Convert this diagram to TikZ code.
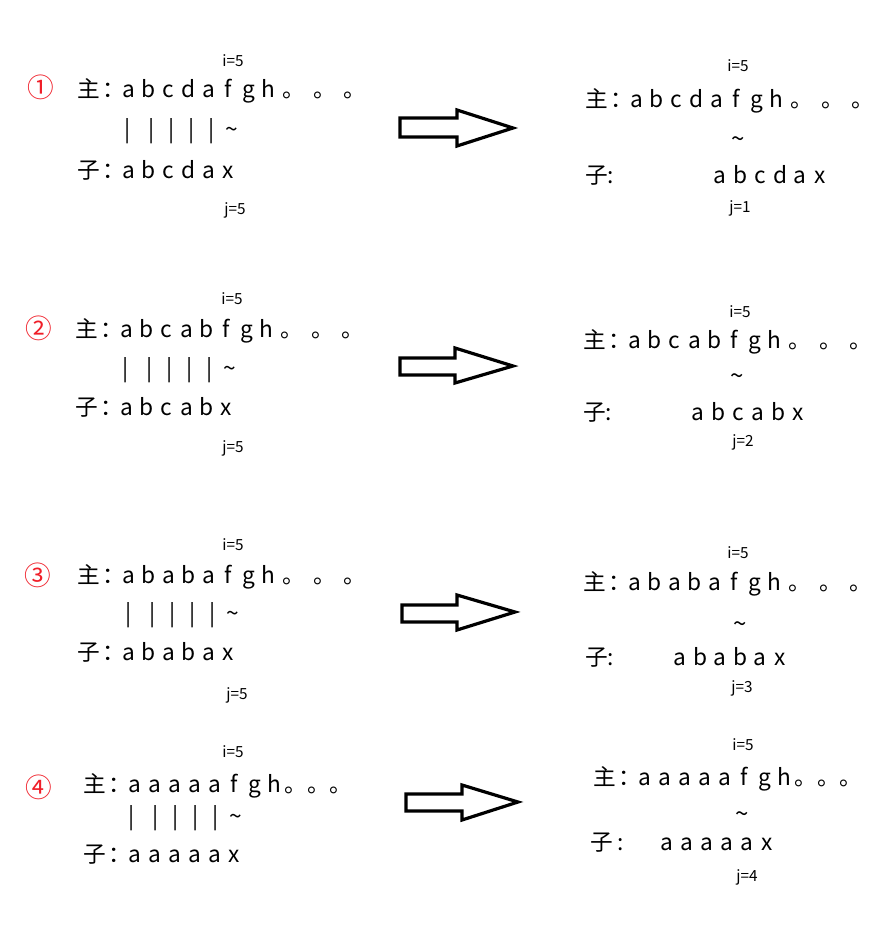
\documentclass[tikz,border=0pt]{standalone}
\usepackage{fontspec}
\setmainfont{Noto Sans CJK SC}
\definecolor{numred}{RGB}{240,30,40}
\makeatletter
\newcommand\spreadchars[1]{\@tfor\sc@c:=#1\do{\makebox[15pt][c]{\sc@c}}}
\makeatother
\newcommand\dotsA{\hspace{3pt}。\hspace{6pt}。\hspace{6pt}。}
\newcommand\dotsB{。。。}
\newcommand\zhu{\makebox[31pt][l]{主\hspace{2pt}：}}
\newcommand\ziL{\makebox[31pt][l]{子\hspace{2pt}：}}
\newcommand\bars{\makebox[21.5pt][c]{|}\spreadchars{||||}\makebox[15pt][c]{\textasciitilde}}
\tikzset{
  mainrow/.style={font=\fontsize{17}{20}\selectfont, inner sep=0pt, anchor=base west},
  barrow/.style={font=\fontsize{17}{20}\selectfont, inner sep=0pt, anchor=west},
  small/.style={font=\fontsize{11.5}{13}\selectfont, inner sep=0pt},
  tilde/.style={font=\fontsize{18}{20}\selectfont, inner sep=0pt},
  num/.style={text=numred, font=\fontsize{20}{22}\selectfont, inner sep=0pt},
  blockarrow/.style={draw=black, line width=2.4pt, fill=white, line join=miter}
}
\begin{document}
\begin{tikzpicture}[x=0.75pt,y=-0.75pt]
\fill[white] (0,0) rectangle (889,938);
\useasboundingbox (0,0) rectangle (889,938);

% ---------- Panel 1 ----------
\node[num] (n1) at (41,87) {①};
\node[small] (i1) at (233,61) {i=5};
\node[mainrow] (m1) at (77,98) {\zhu\spreadchars{abcdafgh}\dotsA};
\node[barrow] (b1) at (112.7,131) {\bars};
\node[mainrow] (s1) at (77,178) {\ziL\spreadchars{abcdax}};
\node[small] (j1) at (235,210) {j=5};
\draw[blockarrow] (400,118) -- (457,118) -- (457,110) -- (513,128) -- (457,146) -- (457,137) -- (400,137) -- cycle;
\node[small] (ri1) at (738,66) {i=5};
\node[mainrow] (rm1) at (585,108) {\zhu\spreadchars{abcdafgh}\dotsA};
\node[tilde] (rt1) at (738,142) {\textasciitilde};
\node[mainrow] (rs1) at (585,183) {\makebox[93.75pt][l]{子:}\spreadchars{abcdax}};
\node[small] (rj1) at (740,208) {j=1};

% ---------- Panel 2 ----------
\node[num] (n2) at (39,328) {②};
\node[small] (i2) at (232,299) {i=5};
\node[mainrow] (m2) at (75,337) {\zhu\spreadchars{abcabfgh}\dotsA};
\node[barrow] (b2) at (111,370) {\bars};
\node[mainrow] (s2) at (75,415) {\ziL\spreadchars{abcabx}};
\node[small] (j2) at (233,448) {j=5};
\draw[blockarrow] (400,358) -- (455,358) -- (455,348) -- (513,366) -- (455,383) -- (455,375) -- (400,375) -- cycle;
\node[small] (ri2) at (740,312) {i=5};
\node[mainrow] (rm2) at (583,348) {\zhu\spreadchars{abcabfgh}\dotsA};
\node[tilde] (rt2) at (737,379) {\textasciitilde};
\node[mainrow] (rs2) at (583,420) {\makebox[78.75pt][l]{子:}\spreadchars{abcabx}};
\node[small] (rj2) at (743,442) {j=2};

% ---------- Panel 3 ----------
\node[num] (n3) at (38,575) {③};
\node[small] (i3) at (233,545) {i=5};
\node[mainrow] (m3) at (77,583) {\zhu\spreadchars{ababafgh}\dotsA};
\node[barrow] (b3) at (113.5,615) {\bars};
\node[mainrow] (s3) at (77,660) {\ziL\spreadchars{ababax}};
\node[small] (j3) at (237,695) {j=5};
\draw[blockarrow] (402,605) -- (457,605) -- (457,595) -- (515,612) -- (457,630) -- (457,622) -- (402,622) -- cycle;
\node[small] (ri3) at (738,553) {i=5};
\node[mainrow] (rm3) at (583,590) {\zhu\spreadchars{ababafgh}\dotsA};
\node[tilde] (rt3) at (740,627) {\textasciitilde};
\node[mainrow] (rs3) at (585,665) {\makebox[63.75pt][l]{子:}\spreadchars{ababax}};
\node[small] (rj3) at (742,688) {j=3};

% ---------- Panel 4 ----------
\node[num] (n4) at (39,787) {④};
\node[small] (i4) at (233,752) {i=5};
\node[mainrow] (m4) at (83,792) {\zhu\spreadchars{aaaaafgh}\dotsB};
\node[barrow] (b4) at (117,818) {\bars};
\node[mainrow] (s4) at (83,862) {\ziL\spreadchars{aaaaax}};
\draw[blockarrow] (406,794) -- (462,794) -- (462,785) -- (518,802) -- (462,820) -- (462,811) -- (406,811) -- cycle;
\node[small] (ri4) at (743,745) {i=5};
\node[mainrow] (rm4) at (593,785) {\zhu\spreadchars{aaaaafgh}\dotsB};
\node[tilde] (rt4) at (742,817) {\textasciitilde};
\node[mainrow] (rs4) at (590,850) {\makebox[50.25pt][l]{子 :}\spreadchars{aaaaax}};
\node[small] (rj4) at (747,877) {j=4};
\end{tikzpicture}
\end{document}
